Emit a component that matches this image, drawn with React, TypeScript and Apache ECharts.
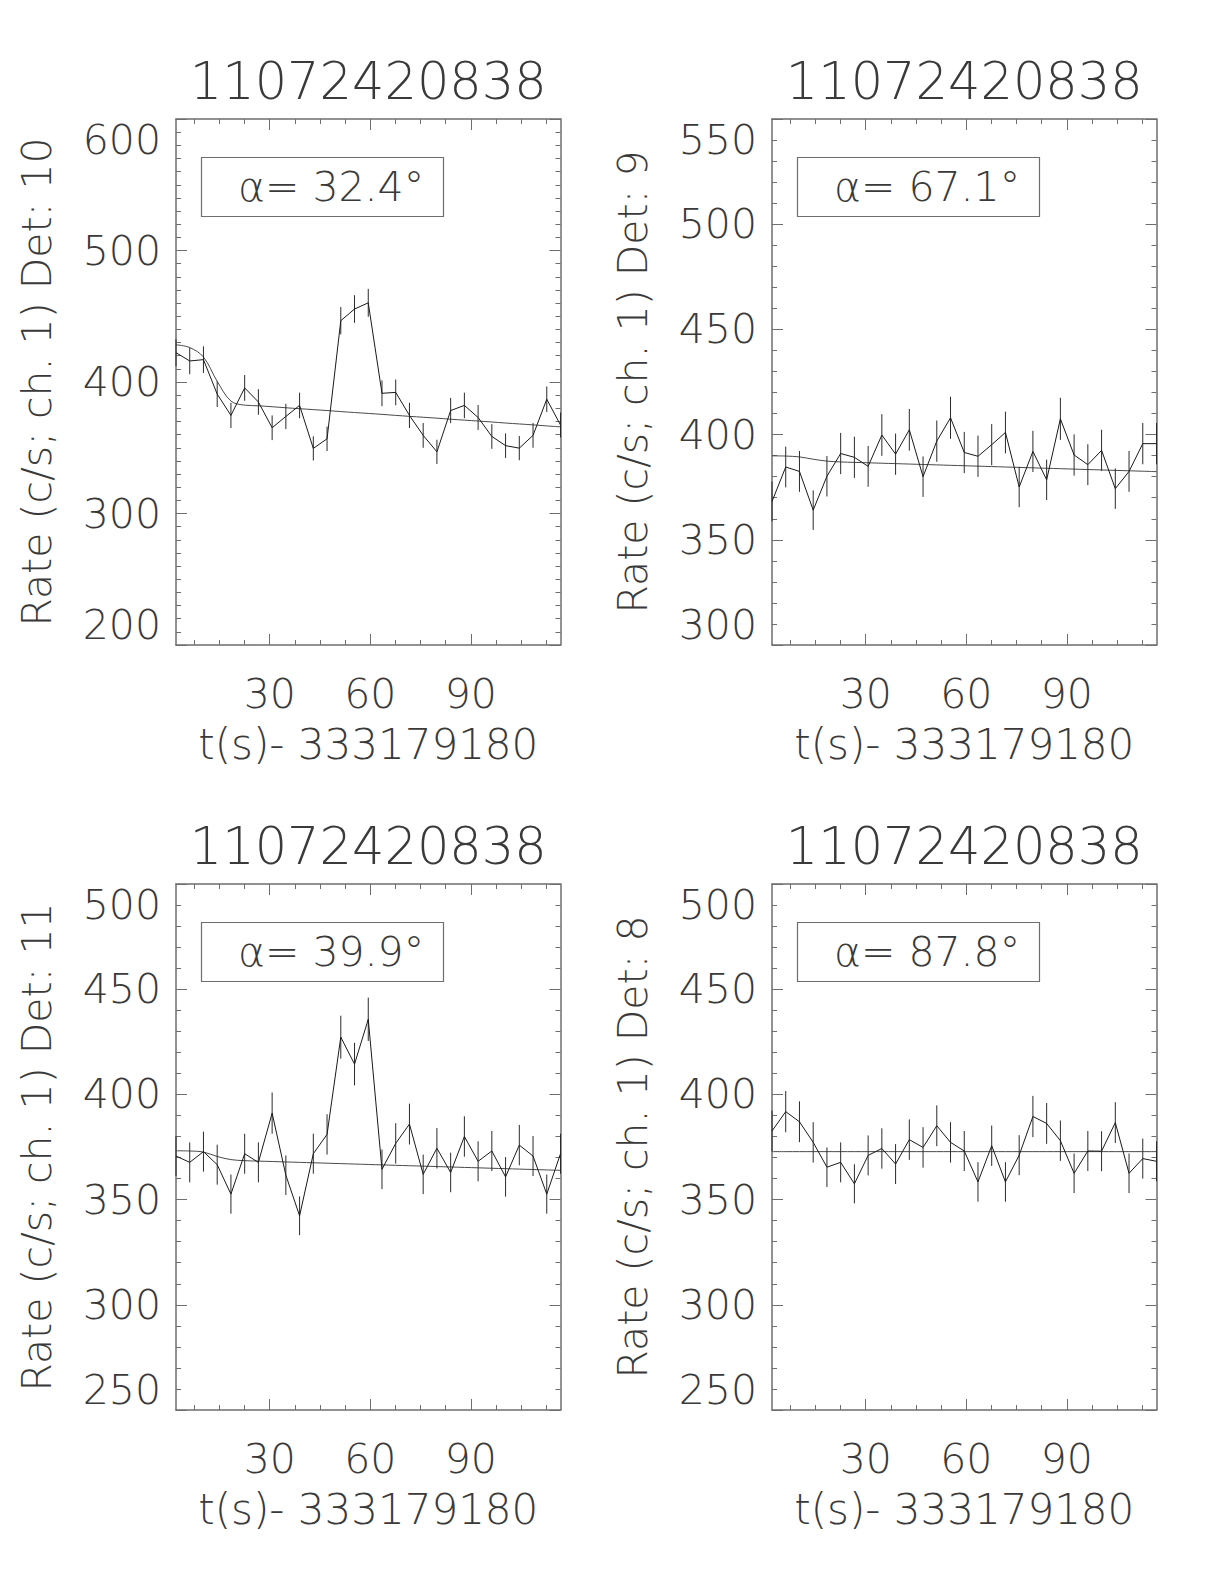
import React, { useEffect, useRef } from "react";
import * as echarts from "echarts";

// ---------- data ----------
const titleText = "11072420838";
const xAxisName = "t(s)- 333179180";
const detLabels = [
  "Rate (c/s; ch. 1) Det: 10",
  "Rate (c/s; ch. 1) Det: 9",
  "Rate (c/s; ch. 1) Det: 11",
  "Rate (c/s; ch. 1) Det: 8",
];
const alphaValues = ["32.4", "67.1", "39.9", "87.8"];

const times = [
  2.048, 6.144, 10.24, 14.336, 18.432, 22.528, 26.624, 30.72, 34.816, 38.912,
  43.008, 47.104, 51.2, 55.296, 59.392, 63.488, 67.584, 71.68, 75.776, 79.872,
  83.968, 88.064, 92.16, 96.256, 100.352, 104.448, 108.544, 112.64, 116.736,
];
const xMajorTicks = [30, 60, 90];
const xMinorTicks = [7.5, 15, 22.5, 37.5, 45, 52.5, 67.5, 75, 82.5, 97.5, 105, 112.5];

const yMins = [200, 300, 250, 250];
const yMaxs = [600, 550, 500, 500];
const yIntervals = [100, 50, 50, 50];
const yMinorSplits = [10, 5, 5, 5];

const rateDet10 = [422.3, 416.0, 417.0, 390.8, 374.6, 395.5, 384.8, 365.2, 373.8, 382.2, 349.5, 356.8, 446.6, 455.5, 460.2, 391.4, 392.1, 374.6, 359.4, 346.9, 378.3, 382.2, 373.0, 358.6, 351.6, 349.7, 359.4, 386.9, 367.3];
const errDet10 = [10.2, 10.1, 10.1, 9.8, 9.6, 9.8, 9.7, 9.4, 9.6, 9.7, 9.2, 9.3, 10.4, 10.5, 10.6, 9.8, 9.8, 9.6, 9.4, 9.2, 9.6, 9.7, 9.5, 9.4, 9.3, 9.2, 9.4, 9.7, 9.5];
const modelDet10 = [428.3, 426.2, 419.0, 400.5, 385.5, 382.4, 381.9, 381.2, 380.4, 379.7, 379.0, 378.3, 377.5, 376.8, 376.1, 375.4, 374.6, 373.9, 373.2, 372.5, 371.7, 371.0, 370.3, 369.6, 368.8, 368.1, 367.4, 366.6, 365.9];

const rateDet9 = [368.2, 384.6, 382.5, 364.1, 380.2, 391.0, 389.2, 384.9, 399.8, 390.7, 402.3, 380.0, 396.9, 408.0, 391.5, 389.7, 395.2, 401.0, 375.1, 392.0, 378.5, 407.5, 390.3, 385.7, 392.5, 374.3, 382.5, 395.7, 395.7];
const errDet9 = [9.5, 9.7, 9.7, 9.4, 9.6, 9.8, 9.8, 9.7, 9.9, 9.8, 9.9, 9.6, 9.8, 10.0, 9.8, 9.8, 9.8, 9.9, 9.6, 9.8, 9.6, 10.0, 9.8, 9.7, 9.8, 9.6, 9.7, 9.8, 9.8];
const modelDet9 = [389.9, 389.8, 389.4, 388.3, 387.4, 387.0, 386.8, 386.6, 386.4, 386.2, 386.0, 385.8, 385.6, 385.4, 385.2, 385.0, 384.8, 384.6, 384.4, 384.2, 384.0, 383.8, 383.6, 383.4, 383.2, 383.0, 382.8, 382.6, 382.4];

const rateDet11 = [370.7, 367.7, 372.8, 366.6, 352.6, 371.8, 367.7, 391.1, 361.6, 342.3, 371.8, 381.0, 427.2, 414.4, 435.7, 364.4, 376.7, 385.9, 362.0, 374.4, 362.9, 380.0, 368.2, 373.1, 360.8, 375.9, 370.7, 352.6, 371.8];
const errDet11 = [9.5, 9.5, 9.5, 9.5, 9.3, 9.5, 9.5, 9.8, 9.4, 9.2, 9.5, 9.6, 10.2, 10.1, 10.3, 9.4, 9.6, 9.7, 9.4, 9.6, 9.4, 9.6, 9.5, 9.5, 9.4, 9.6, 9.5, 9.3, 9.5];
const modelDet11 = [373.2, 373.1, 372.6, 370.5, 369.0, 368.5, 368.3, 368.1, 367.9, 367.7, 367.5, 367.3, 367.1, 366.9, 366.7, 366.5, 366.3, 366.1, 365.9, 365.7, 365.5, 365.3, 365.1, 364.9, 364.7, 364.5, 364.3, 364.1, 363.9];

const rateDet8 = [382.6, 391.8, 387.0, 377.2, 365.4, 367.7, 357.5, 371.0, 374.3, 366.9, 378.5, 374.8, 385.1, 377.2, 373.1, 358.4, 375.6, 358.4, 371.1, 389.5, 386.2, 378.0, 362.5, 373.1, 373.0, 386.6, 362.5, 369.5, 368.2];
const errDet8 = [9.7, 9.8, 9.7, 9.6, 9.4, 9.5, 9.3, 9.5, 9.6, 9.5, 9.6, 9.6, 9.7, 9.6, 9.5, 9.4, 9.6, 9.4, 9.5, 9.8, 9.7, 9.6, 9.4, 9.5, 9.5, 9.7, 9.4, 9.5, 9.5];
const modelDet8 = [372.8, 372.8, 372.8, 372.8, 372.8, 372.8, 372.8, 372.8, 372.8, 372.8, 372.8, 372.8, 372.8, 372.8, 372.8, 372.8, 372.8, 372.8, 372.8, 372.8, 372.8, 372.8, 372.8, 372.8, 372.8, 372.8, 372.8, 372.8, 372.8];

const rates = [rateDet10, rateDet9, rateDet11, rateDet8];
const errors = [errDet10, errDet9, errDet11, errDet8];
const models = [modelDet10, modelDet9, modelDet11, modelDet8];

// ---------- layout / style ----------
const GRID_POS = [
  [176, 119],
  [772, 119],
  [176, 884],
  [772, 884],
];
const GW = 384.5;
const GH = 526;
const FONT = "DejaVu Sans";
const FW = 200;
const TXT = "#3a3a3a";
const FRAME = "#6e6e6e";

function buildOption() {
  const grid: any[] = [];
  const xAxis: any[] = [];
  const yAxis: any[] = [];
  const series: any[] = [];
  const graphic: any[] = [];

  for (let i = 0; i < 4; i++) {
    const [gl, gt] = GRID_POS[i];
    grid.push({ left: gl, top: gt, width: GW, height: GH, containLabel: false, outerBoundsMode: "none" });

    const xmin = times[0];
    const xmax = times[times.length - 1];
    const xBase = (pos: string, major: boolean, withLine: boolean) => ({
      type: "value",
      gridIndex: i,
      position: pos,
      min: xmin,
      max: xmax,
      axisLine: { show: withLine, onZero: false, lineStyle: { color: FRAME, width: 1.5 } },
      axisTick: {
        show: true,
        inside: true,
        length: major ? 11 : 5,
        customValues: major ? xMajorTicks : xMinorTicks,
        lineStyle: { color: FRAME, width: 1 },
      },
      axisLabel: {
        show: pos === "bottom" && major,
        customValues: major ? xMajorTicks : xMinorTicks,
        margin: 28,
        fontSize: 41,
        fontFamily: FONT,
        fontWeight: FW,
        color: TXT,
      },
      splitLine: { show: false },
    });
    const xb = xBase("bottom", true, true) as any;
    xb.name = xAxisName;
    xb.nameLocation = "middle";
    xb.nameGap = 78;
    xb.nameMoveOverlap = false;
    xb.nameTextStyle = { fontSize: 42, fontFamily: FONT, fontWeight: FW, color: TXT };
    xAxis.push(xb);
    xAxis.push(xBase("bottom", false, false));
    xAxis.push(xBase("top", true, true));
    xAxis.push(xBase("top", false, false));

    const yBase = (pos: string) => ({
      type: "value",
      gridIndex: i,
      position: pos,
      min: yMins[i],
      max: yMaxs[i],
      interval: yIntervals[i],
      axisLine: { show: true, onZero: false, lineStyle: { color: FRAME, width: 1.5 } },
      axisTick: { show: true, inside: true, length: 11, lineStyle: { color: FRAME, width: 1 } },
      minorTick: { show: true, splitNumber: yMinorSplits[i], length: 5, lineStyle: { color: FRAME, width: 1 } },
      splitLine: { show: false },
      minorSplitLine: { show: false },
      axisLabel: {
        show: pos === "left",
        margin: 15,
        fontSize: 41,
        fontFamily: FONT,
        fontWeight: FW,
        color: TXT,
        showMinLabel: true,
        showMaxLabel: true,
        verticalAlignMinLabel: "bottom",
        verticalAlignMaxLabel: "top",
      },
    });
    const yl = yBase("left") as any;
    yl.name = detLabels[i];
    yl.nameLocation = "middle";
    yl.nameRotate = 90;
    yl.nameGap = 119;
    yl.nameMoveOverlap = false;
    yl.nameTextStyle = { fontSize: 41, fontFamily: FONT, fontWeight: FW, color: TXT };
    yAxis.push(yl);
    yAxis.push(yBase("right"));

    const xi = 4 * i;
    const yi = 2 * i;
    const r = rates[i];
    const e = errors[i];
    const m = models[i];

    series.push({
      type: "line",
      xAxisIndex: xi,
      yAxisIndex: yi,
      data: times.map((t, k) => [t, m[k]]),
      smooth: 0.35,
      showSymbol: false,
      symbol: "none",
      lineStyle: { color: "#4a4a4a", width: 1 },
      z: 2,
    });
    series.push({
      type: "line",
      xAxisIndex: xi,
      yAxisIndex: yi,
      data: times.map((t, k) => [t, r[k]]),
      showSymbol: false,
      symbol: "none",
      lineStyle: { color: "#1a1a1a", width: 1 },
      z: 3,
    });
    series.push({
      type: "custom",
      xAxisIndex: xi,
      yAxisIndex: yi,
      data: times.map((t, k) => [t, r[k] - e[k], r[k] + e[k]]),
      encode: { x: 0, y: [1, 2] },
      renderItem: (params: any, api: any) => {
        const x = api.value(0);
        const p1 = api.coord([x, api.value(1)]);
        const p2 = api.coord([x, api.value(2)]);
        return {
          type: "line",
          shape: { x1: p1[0], y1: p1[1], x2: p2[0], y2: p2[1] },
          style: { stroke: "#2a2a2a", lineWidth: 1 },
        };
      },
      z: 3,
    });

    graphic.push({
      type: "text",
      x: gl + GW / 2,
      y: gt - 38,
      style: {
        text: titleText,
        fontSize: 51,
        fontFamily: FONT,
        fontWeight: FW,
        fill: TXT,
        textAlign: "center",
        textVerticalAlign: "middle",
      },
    });
    graphic.push({
      type: "rect",
      shape: { x: gl + 25.5, y: gt + 38.5, width: 242, height: 59 },
      style: { fill: "none", stroke: FRAME, lineWidth: 1.2 },
    });
    graphic.push({
      type: "text",
      x: gl + 62,
      y: gt + 68,
      style: {
        text: "{a|α}= " + alphaValues[i] + "°",
        fontSize: 41,
        fontFamily: FONT,
        fontWeight: FW,
        fill: TXT,
        textAlign: "left",
        textVerticalAlign: "middle",
        rich: {
          a: { fontSize: 41, fontFamily: FONT, fontWeight: FW, fill: TXT },
        },
      },
    });
  }

  return {
    animation: false,
    backgroundColor: "#ffffff",
    grid,
    xAxis,
    yAxis,
    series,
    graphic,
  };
}

export default function App() {
  const ref = useRef<HTMLDivElement>(null);
  useEffect(() => {
    if (!ref.current) return;
    const chart = echarts.init(ref.current, null, { renderer: "svg" });
    chart.setOption(buildOption() as any);
    return () => chart.dispose();
  }, []);
  return (
    <div
      ref={ref}
      style={{ position: "absolute", left: 0, top: 0, width: 1224, height: 1584, background: "#fff" }}
    />
  );
}
